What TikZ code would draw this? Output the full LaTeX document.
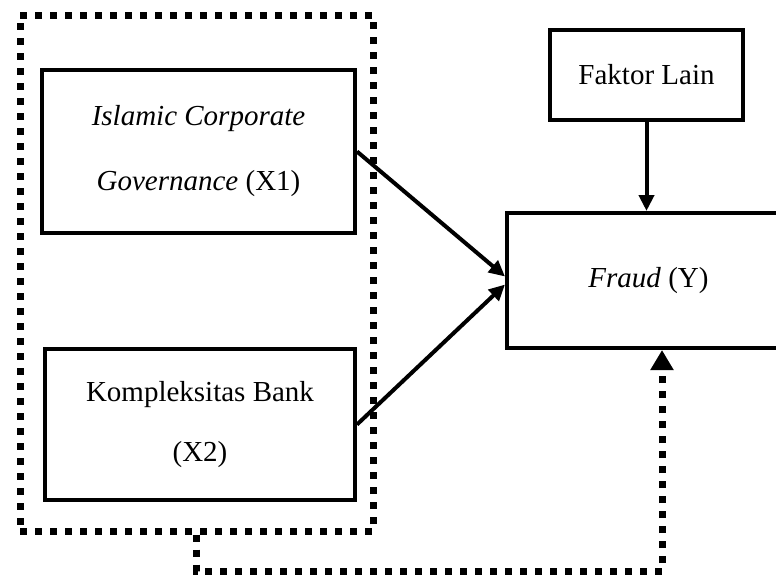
\documentclass[tikz,border=0pt]{standalone}
\usepackage{fontspec}
\setmainfont{Liberation Serif}
\usetikzlibrary{arrows.meta}

\begin{document}
\begin{tikzpicture}
            [x=1pt,y=-1pt,line width=4pt,
             every node/.style={rectangle,draw,align=center,font=\fontsize{29}{34}\selectfont},
             dotline/.style={line width=7pt,dash pattern=on 7pt off 8pt},
             tip/.style={-{Triangle[length=16pt,width=15pt]}}]
            \useasboundingbox (0,0) rectangle (776,579);
            \node[dotline,minimum width=353pt,minimum height=516pt] (grp) at (196.5,273) {};
            \node[minimum width=313pt,minimum height=163pt] (x1) at (198.5,151.5) {\textit{Islamic Corporate}\\[31pt]\textit{Governance} (X1)};
            \node[minimum width=310pt,minimum height=151pt] (x2) at (200,424.5) {Kompleksitas Bank\\[26pt](X2)};
            \node[minimum width=193pt,minimum height=90pt] (lain) at (646.5,75) {Faktor Lain};
            \node[minimum width=283pt,minimum height=135pt] (y) at (648.5,280.5) {\textit{Fraud} (Y)};
            \coordinate (turn) at (662,571);
            \draw[tip] (x1.east) -- ([yshift=4pt]y.west);
            \draw[tip] (x2.east) -- ([yshift=-4pt]y.west);
            \draw[tip] (lain.south) -- (lain.south |- y.north);
            
            \draw[dotline,-{Triangle[length=20pt,width=22pt]}] (grp.south) |- (turn) -- (turn |- y.south);

        \end{tikzpicture}
\end{document}
